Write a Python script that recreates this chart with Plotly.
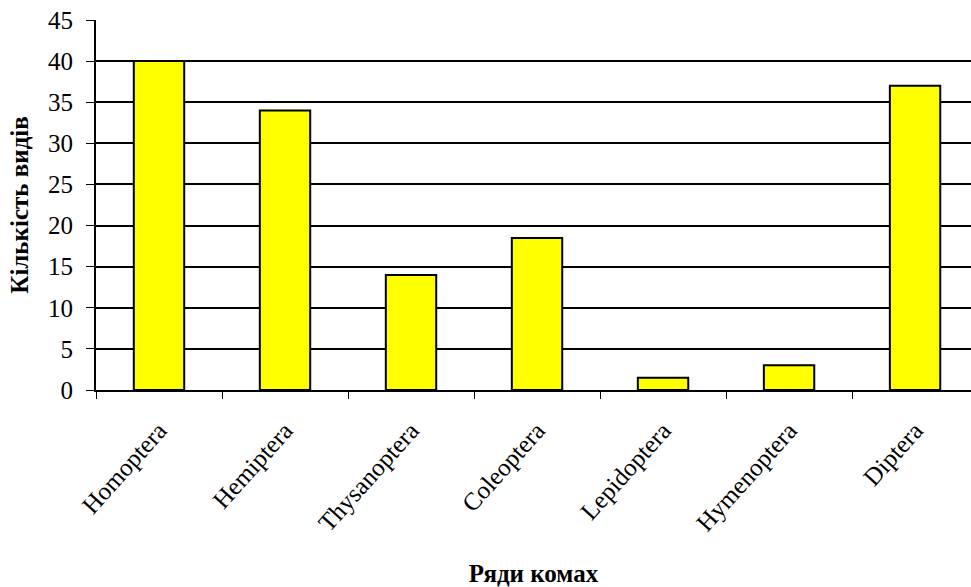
import plotly.graph_objects as go

categories = ["Homoptera", "Hemiptera", "Thysanoptera", "Coleoptera", "Lepidoptera", "Hymenoptera", "Diptera"]
values = [40, 34, 14, 18.5, 1.5, 3, 37]
y_ticks = [0, 5, 10, 15, 20, 25, 30, 35, 40, 45]

font_family = "Times New Roman, Liberation Serif, DejaVu Serif, serif"

fig = go.Figure(go.Bar(
    x=categories, y=values, width=0.4,
    marker=dict(color="#FFFF00", line=dict(color="black", width=2)),
))

fig.update_layout(
    width=971, height=587,
    margin=dict(l=96, r=0, t=20, b=197),
    plot_bgcolor="white", paper_bgcolor="white",
    font=dict(family=font_family, size=24, color="black"),
    showlegend=False,
    bargap=0.6,
)
fig.update_xaxes(
    range=[-0.5, 6.444], tickangle=-48, tickson="boundaries",
    ticks="outside", ticklen=7, tickwidth=1, tickcolor="black",
    showline=True, linecolor="black", linewidth=2,
    showgrid=False, automargin=False,
    tickfont=dict(family=font_family, size=25),
    ticklabelstandoff=14,
    title=dict(text="<b>Ряди комах</b>", font=dict(family=font_family, size=25), standoff=34),
)
fig.update_yaxes(
    range=[0, 45], tickvals=y_ticks,
    ticks="outside", ticklen=8, tickwidth=1, tickcolor="black",
    showline=True, linecolor="black", linewidth=2,
    showgrid=True, gridcolor="black", gridwidth=2,
    zeroline=False, automargin=False,
    tickfont=dict(family=font_family, size=25),
    ticklabelstandoff=8,
    title=dict(text="<b>Кількість видів</b>", font=dict(family=font_family, size=25), standoff=12),
)

fig.write_html("out.html")
